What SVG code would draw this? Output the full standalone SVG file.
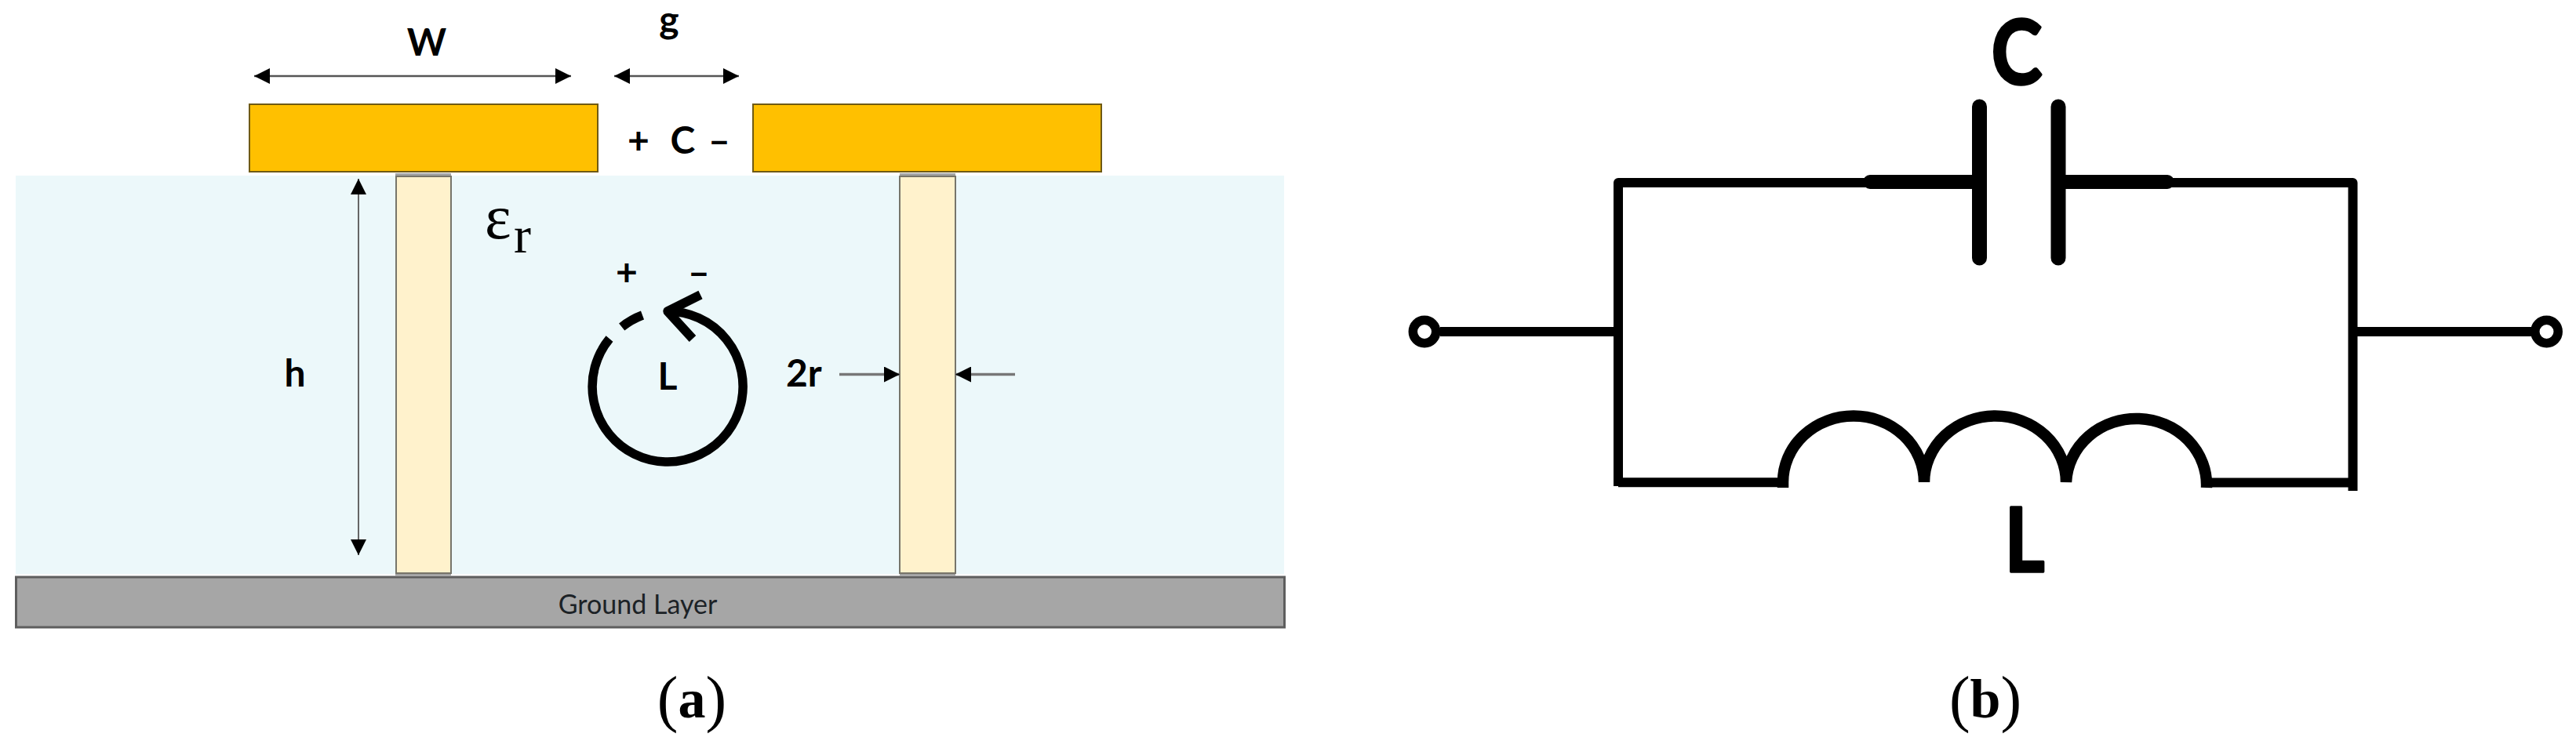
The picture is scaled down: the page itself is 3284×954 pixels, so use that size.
<svg xmlns="http://www.w3.org/2000/svg" width="3284" height="954" viewBox="0 0 3284 954">
<style>
text{font-family:"Lato","Liberation Sans",sans-serif;fill:#000}
.lb{font-size:48px;font-weight:700}
.big{font-size:112px;font-weight:700;stroke:#000;stroke-width:3.500px;stroke-linejoin:round}
.cap{font-family:"Liberation Serif",serif;font-size:80px}
.cap .b{font-weight:700;font-size:70px}
.gold{fill:#FFC000;stroke:#6f5a14;stroke-width:2}
.pillar{fill:#FFF2CC;stroke:#77756a;stroke-width:2}
.shade{fill:#a3a3a3}
.dim{fill:none;stroke:#555;stroke-width:2.5;marker-start:url(#tri);marker-end:url(#tri)}
.single{fill:none;stroke:#777;stroke-width:3.5;marker-end:url(#tri)}
.wire{fill:none;stroke:#000;stroke-width:12;stroke-linejoin:round}
.thick{fill:none;stroke:#000;stroke-width:18;stroke-linecap:round}
.plate{fill:none;stroke:#000;stroke-width:19;stroke-linecap:round}
.loop{fill:none;stroke:#000;stroke-width:11.5}
</style>
<defs>
<marker id="tri" markerUnits="userSpaceOnUse" markerWidth="20" markerHeight="20" viewBox="0 0 20 20" refX="20" refY="10" orient="auto-start-reverse"><path d="M0 0L20 10L0 20Z" fill="#000"/></marker>
</defs>
<rect width="3284" height="954" fill="#fff"/>
<g id="substrate"><rect x="20" y="224" width="1617" height="508" fill="#ECF8FA"/></g>
<g id="ground-layer">
<rect x="20.5" y="736" width="1617" height="64" fill="#A6A6A6" stroke="#5e5e5e" stroke-width="3"/>
<text x="813" y="783" font-size="34" text-anchor="middle" style="fill:#1c2226">Ground Layer</text>
</g>
<g id="via-left">
<rect class="shade" x="504" y="221" width="71" height="5"/>
<rect class="shade" x="504" y="730" width="71" height="4"/>
<rect class="pillar" x="505" y="225" width="70" height="506"/>
</g>
<g id="via-right">
<rect class="shade" x="1147" y="221" width="71" height="5"/>
<rect class="shade" x="1147" y="730" width="71" height="4"/>
<rect class="pillar" x="1147" y="225" width="71" height="506"/>
</g>
<g id="patch-left"><rect class="gold" x="318" y="133" width="444" height="86"/></g>
<g id="patch-right"><rect class="gold" x="960" y="133" width="444" height="86"/></g>
<g id="connectors">
<line class="dim" x1="324" y1="97" x2="728" y2="97"/>
<line class="dim" x1="783" y1="97" x2="942" y2="97"/>
<line x1="457" y1="228" x2="457" y2="708" class="dim" style="stroke:#666;stroke-width:2"/>
<line class="single" x1="1070" y1="477.5" x2="1147" y2="477.5"/>
<line class="single" x1="1294" y1="477.5" x2="1218" y2="477.5"/>
<path class="wire" d="M1836 423H2063M2063 620V233H2514M2633 233H2999.5V626M2063 615.300H2273M2813 615.500H3000M3000 423H3227"/>
<path class="thick" d="M2384 232H2514M2633 232H2763"/>
<path class="plate" d="M2523.500 136V329M2624 136V329"/>
<path d="M2273 622V615A90 84.500 0 0 1 2453 615A90.500 84.500 0 0 1 2634 615A89.500 84.500 0 0 1 2813 622" fill="none" stroke="#000" stroke-width="14.500"/>
<circle cx="1816" cy="423" r="14.700" fill="#fff" stroke="#000" stroke-width="11.500"/>
<circle cx="3246.500" cy="423" r="14.700" fill="#fff" stroke="#000" stroke-width="11.500"/>
</g>
<g id="label-W"><text class="lb" x="544" y="71" text-anchor="middle">W</text></g>
<g id="label-g"><text class="lb" x="853" y="42" text-anchor="middle">g</text></g>
<g id="label-C-gap">
<text class="lb" x="814" y="196" text-anchor="middle">+</text>
<text class="lb" x="870.500" y="196" text-anchor="middle">C</text>
<text class="lb" x="917" y="196" text-anchor="middle">–</text>
</g>
<g id="label-h"><text class="lb" x="376" y="493" text-anchor="middle">h</text></g>
<g id="label-er"><text x="618" y="304" font-size="80" style="font-family:'Liberation Serif',serif">ε<tspan x="655" y="322" font-size="66">r</tspan></text></g>
<g id="inductance-loop">
<path class="loop" d="M851 397A96 96 0 1 1 777 432"/>
<path class="loop" d="M792.700 417A96 96 0 0 1 819 402"/>
<path class="loop" d="M893 376L851 397L883 432" stroke-linejoin="round"/>
<text class="lb" x="799" y="364" text-anchor="middle">+</text>
<text class="lb" x="891" y="364" text-anchor="middle">–</text>
<text class="lb" x="851" y="497" text-anchor="middle">L</text>
</g>
<g id="label-2r"><text class="lb" x="1002" y="493">2r</text></g>
<g id="label-C"><text class="big" text-anchor="middle" transform="translate(2571 107) scale(.87 1)">C</text></g>
<g id="label-L"><text class="big" text-anchor="middle" transform="translate(2581 729) scale(.87 1)">L</text></g>
<g id="caption-a"><text class="cap" x="882" y="918" text-anchor="middle">(<tspan class="b" dy="-3">a</tspan><tspan dy="3">)</tspan></text></g>
<g id="caption-b"><text class="cap" x="2531" y="918" text-anchor="middle">(<tspan class="b" dy="-3">b</tspan><tspan dy="3">)</tspan></text></g>
</svg>
